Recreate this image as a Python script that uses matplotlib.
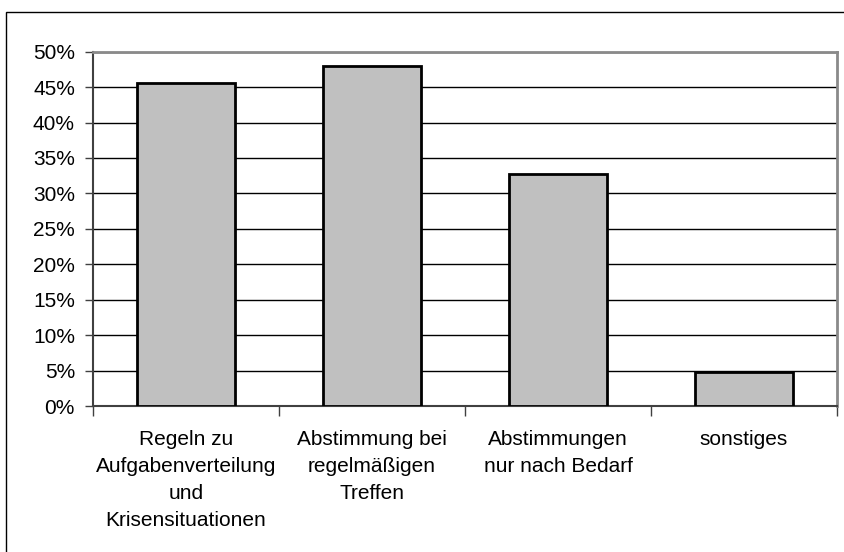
import matplotlib.pyplot as plt
from matplotlib.patches import Rectangle

plt.rcParams['font.family'] = ['Liberation Sans', 'DejaVu Sans']

kategorien = ["Regeln zu\nAufgabenverteilung\nund\nKrisensituationen",
              "Abstimmung bei\nregelmäßigen\nTreffen",
              "Abstimmungen\nnur nach Bedarf",
              "sonstiges"]
anteile = [45.6, 48.0, 32.7, 4.8]
y_ticks = [0, 5, 10, 15, 20, 25, 30, 35, 40, 45, 50]

fig = plt.figure(figsize=(8.45, 5.52), dpi=100)
ax = fig.add_axes([93 / 845, 1 - 406 / 552, (837 - 93) / 845, (406 - 51.7) / 552])

# Rahmen um das ganze Diagramm
fig.patches.append(Rectangle((6 / 845, -0.1), 1.2, 1 - 12 / 552 + 0.1,
                             transform=fig.transFigure, fill=False,
                             edgecolor="black", linewidth=1.0))

x = range(len(kategorien))
ax.bar(x, anteile, width=0.53, color="#C0C0C0", edgecolor="black",
       linewidth=2.0, zorder=3)

ax.set_ylim(0, 50)
ax.set_xlim(-0.5, len(kategorien) - 0.5)
ax.set_yticks(y_ticks)
ax.set_yticklabels([f"{v}%" for v in y_ticks])
ax.yaxis.grid(True, color="black", linewidth=1.0, zorder=0)
ax.set_axisbelow(True)

ax.set_xticks([i + 0.5 for i in range(-1, len(kategorien))])
ax.set_xticklabels([])
ax.set_xticks(list(x), minor=True)
ax.set_xticklabels(kategorien, minor=True, linespacing=1.55)
ax.tick_params(axis="x", which="minor", length=0, pad=17, labelsize=15)
ax.tick_params(axis="x", which="major", length=7, width=1, color="#404040")
ax.tick_params(axis="y", length=6, width=1, color="#404040", labelsize=15, pad=7)

for s in ["top", "right"]:
    ax.spines[s].set_color("#8a8a8a")
    ax.spines[s].set_linewidth(2.0)
for s in ["left", "bottom"]:
    ax.spines[s].set_color("#404040")
    ax.spines[s].set_linewidth(1.5)

fig.savefig("out.png", dpi=100)
